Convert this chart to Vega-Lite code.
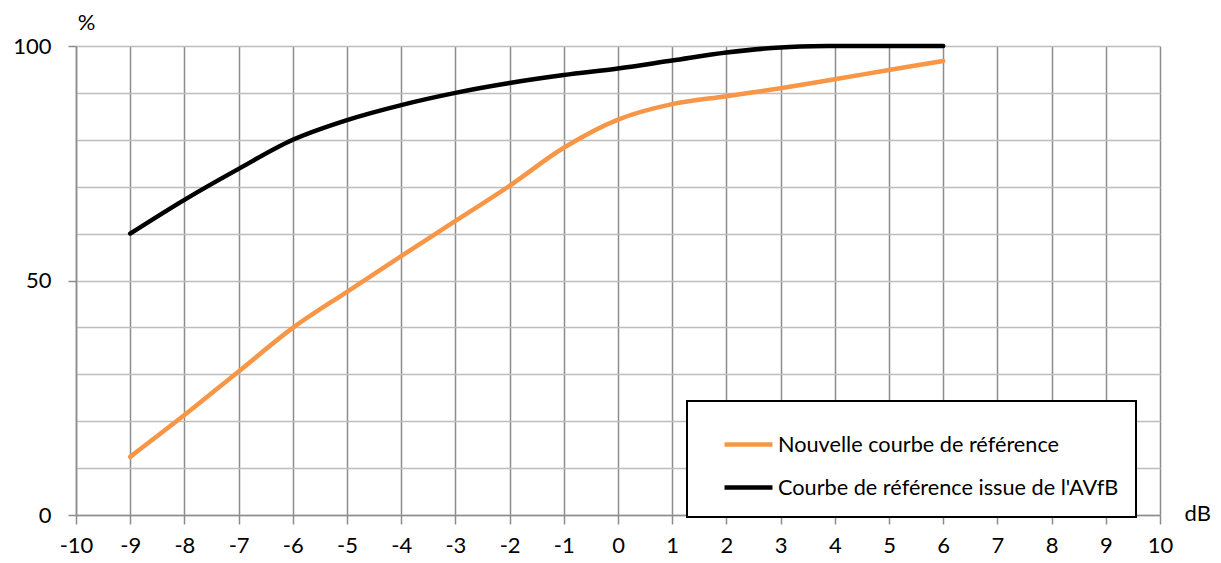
{
  "$schema": "https://vega.github.io/schema/vega-lite/v6.json",
  "width": 1084,
  "height": 469,
  "autosize": "none",
  "padding": {"left": 76, "top": 46, "right": 61, "bottom": 48},
  "background": "white",
  "config": {
    "view": {"stroke": null},
    "font": "Lato",
    "axis": {"labelFont": "Lato", "titleFont": "Lato", "labelColor": "black", "titleColor": "black"},
    "legend": {"strokeWidth": 2}
  },
  "data": {
    "values": [
      {"serie": "Nouvelle courbe de référence", "dB": -9, "pct": 12.4},
      {"serie": "Nouvelle courbe de référence", "dB": -8, "pct": 21.3},
      {"serie": "Nouvelle courbe de référence", "dB": -7, "pct": 30.6},
      {"serie": "Nouvelle courbe de référence", "dB": -6, "pct": 39.9},
      {"serie": "Nouvelle courbe de référence", "dB": -5, "pct": 47.6},
      {"serie": "Nouvelle courbe de référence", "dB": -4, "pct": 55.2},
      {"serie": "Nouvelle courbe de référence", "dB": -3, "pct": 62.7},
      {"serie": "Nouvelle courbe de référence", "dB": -2, "pct": 70.2},
      {"serie": "Nouvelle courbe de référence", "dB": -1, "pct": 78.3},
      {"serie": "Nouvelle courbe de référence", "dB": 0, "pct": 84.3},
      {"serie": "Nouvelle courbe de référence", "dB": 1, "pct": 87.6},
      {"serie": "Nouvelle courbe de référence", "dB": 2, "pct": 89.3},
      {"serie": "Nouvelle courbe de référence", "dB": 3, "pct": 91.0},
      {"serie": "Nouvelle courbe de référence", "dB": 4, "pct": 92.9},
      {"serie": "Nouvelle courbe de référence", "dB": 5, "pct": 94.9},
      {"serie": "Nouvelle courbe de référence", "dB": 6, "pct": 96.8},
      {"serie": "Courbe de référence issue de l'AVfB", "dB": -9, "pct": 60.0},
      {"serie": "Courbe de référence issue de l'AVfB", "dB": -8, "pct": 67.2},
      {"serie": "Courbe de référence issue de l'AVfB", "dB": -7, "pct": 73.8},
      {"serie": "Courbe de référence issue de l'AVfB", "dB": -6, "pct": 80.0},
      {"serie": "Courbe de référence issue de l'AVfB", "dB": -5, "pct": 84.2},
      {"serie": "Courbe de référence issue de l'AVfB", "dB": -4, "pct": 87.4},
      {"serie": "Courbe de référence issue de l'AVfB", "dB": -3, "pct": 90.0},
      {"serie": "Courbe de référence issue de l'AVfB", "dB": -2, "pct": 92.1},
      {"serie": "Courbe de référence issue de l'AVfB", "dB": -1, "pct": 93.8},
      {"serie": "Courbe de référence issue de l'AVfB", "dB": 0, "pct": 95.2},
      {"serie": "Courbe de référence issue de l'AVfB", "dB": 1, "pct": 96.9},
      {"serie": "Courbe de référence issue de l'AVfB", "dB": 2, "pct": 98.6},
      {"serie": "Courbe de référence issue de l'AVfB", "dB": 3, "pct": 99.7},
      {"serie": "Courbe de référence issue de l'AVfB", "dB": 4, "pct": 100},
      {"serie": "Courbe de référence issue de l'AVfB", "dB": 5, "pct": 100},
      {"serie": "Courbe de référence issue de l'AVfB", "dB": 6, "pct": 100}
    ]
  },
  "mark": {"type": "line", "interpolate": "catmull-rom", "strokeWidth": 4.5, "strokeCap": "round"},
  "encoding": {
    "x": {
      "field": "dB", "type": "quantitative",
      "scale": {"domain": [-10, 10], "nice": false},
      "axis": {
        "values": [-10, -9, -8, -7, -6, -5, -4, -3, -2, -1, 0, 1, 2, 3, 4, 5, 6, 7, 8, 9, 10],
        "labelExpr": "toString(datum.value)",
        "grid": true, "gridColor": "#8c8c8c", "gridWidth": 1.5,
        "domainColor": "#8c8c8c", "domainWidth": 1.5,
        "tickColor": "#8c8c8c", "tickWidth": 1.5, "tickSize": 9,
        "labelFontSize": 22, "labelPadding": 11, "labelFlush": false,
        "title": "dB", "titleFontSize": 22, "titleFontWeight": "normal",
        "titleAnchor": "end", "titleAlign": "left", "titleBaseline": "middle",
        "titleX": 1108, "titleY": -2
      }
    },
    "y": {
      "field": "pct", "type": "quantitative",
      "scale": {"domain": [0, 100], "nice": false},
      "axis": {
        "values": [0, 10, 20, 30, 40, 50, 60, 70, 80, 90, 100],
        "labelExpr": "datum.value % 50 === 0 ? datum.label : ''",
        "grid": true, "gridColor": "#bdbdbd", "gridWidth": 1.5,
        "domainColor": "#8c8c8c", "domainWidth": 1.5,
        "tickColor": "#8c8c8c", "tickWidth": 1.5, "tickSize": 8,
        "tickOpacity": {"condition": {"test": "datum.value % 50 === 0", "value": 1}, "value": 0},
        "labelFontSize": 22, "labelPadding": 17,
        "title": "%", "titleFontSize": 22, "titleFontWeight": "normal",
        "titleAngle": 0, "titleAlign": "center", "titleBaseline": "middle",
        "titleX": 10, "titleY": -24
      }
    },
    "color": {
      "field": "serie", "type": "nominal",
      "scale": {
        "domain": ["Nouvelle courbe de référence", "Courbe de référence issue de l'AVfB"],
        "range": ["#f79646", "#000000"]
      },
      "legend": {
        "title": null,
        "orient": "none",
        "legendX": 611,
        "legendY": 355,
        "direction": "vertical",
        "symbolType": "stroke",
        "symbolSize": 2300,
        "symbolStrokeWidth": 4.5,
        "symbolOffset": 18,
        "labelFontSize": 21.7,
        "labelFont": "Lato",
        "labelColor": "black",
        "labelOffset": 3,
        "labelLimit": 600,
        "rowPadding": 4,
        "padding": 17,
        "fillColor": "white",
        "strokeColor": "black"
      }
    }
  }
}
